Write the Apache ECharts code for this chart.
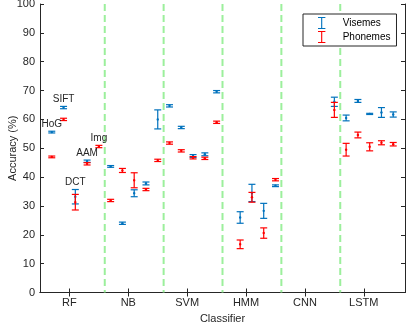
<!DOCTYPE html>
<html>
<head>
<meta charset="utf-8">
<script src="https://cdn.jsdelivr.net/npm/echarts@6/dist/echarts.min.js"></script>
<style>
  html, body { margin: 0; padding: 0; background: #fff; }
  #chart { width: 407px; height: 326px; }
</style>
</head>
<body>
<div id="chart"></div>
<script>
	const classifiers = ['RF', 'NB', 'SVM', 'HMM', 'CNN', 'LSTM'];
	const features = ['HoG', 'SIFT', 'DCT', 'AAM', 'Img'];

	// accuracy (%), one row per classifier, one column per feature
	const visemeMean = [
		[55.6, 64.1, 33.2, 45.5, null],
		[43.7, 24.0, 34.4, 37.8, 60.0],
		[64.7, 57.2, 47.3, 47.9, 69.6],
		[null, 26.0, 34.5, 28.3, 37.0],
		[null, null, null, null, 66.1],
		[60.5, 66.4, 61.9, 62.4, 61.7]
	];
	const visemeErr = [
		[0.3, 0.4, 2.5, 0.4, null],
		[0.3, 0.4, 1.2, 0.5, 3.3],
		[0.4, 0.4, 0.5, 0.5, 0.4],
		[null, 2.0, 3.0, 2.6, 0.3],
		[null, null, null, null, 1.6],
		[1.0, 0.5, 0.2, 1.7, 0.9]
	];
	const phonemeMean = [
		[47.0, 60.0, 31.3, 44.6, 50.6],
		[31.9, 42.3, 38.9, 35.7, 45.8],
		[51.8, 49.1, 46.7, 46.5, 59.0],
		[null, 16.7, 33.0, 20.6, 39.1],
		[null, null, null, null, 63.3],
		[49.5, 54.6, 50.5, 51.9, 51.4]
	];
	const phonemeErr = [
		[0.3, 0.4, 2.7, 0.4, 0.4],
		[0.4, 0.7, 2.6, 0.4, 0.4],
		[0.4, 0.4, 0.4, 0.4, 0.4],
		[null, 1.5, 1.7, 1.8, 0.4],
		[null, null, null, null, 2.6],
		[2.2, 1.0, 1.4, 0.7, 0.6]
	];
	// feature names are written above the RF group only
	const annotatedClassifier = 'RF';

	// where each feature sits inside a classifier slot
	const featureShift = [-0.3, -0.1, 0.1, 0.3, 0.5];

	function buildBars (mean, err) {
		const out = [];
		for (let c = 0; c < classifiers.length; c++) {
			for (let f = 0; f < features.length; f++) {
				if (mean[c][f] == null) continue;
				const m = mean[c][f], e = err[c][f];
				out.push([c + 1 + featureShift[f], m, m - e, m + e]);
			}
		}
		return out;
	}

	function buildNotes () {
		const c = classifiers.indexOf(annotatedClassifier);
		const out = [];
		for (let f = 0; f < features.length; f++) {
			let top = -Infinity;
			if (visemeMean[c][f] != null) top = Math.max(top, visemeMean[c][f] + visemeErr[c][f]);
			if (phonemeMean[c][f] != null) top = Math.max(top, phonemeMean[c][f] + phonemeErr[c][f]);
			out.push([c + 1 + featureShift[f], top, features[f]]);
		}
		return out;
	}

	const dividers = classifiers.slice(1).map((_, i) => i + 1.6);
	const tickPos = classifiers.map((_, i) => i + 1);

	function renderBar (params, api) {
		const x = api.value(0);
		const pm = api.coord([x, api.value(1)]);
		const pl = api.coord([x, api.value(2)]);
		const ph = api.coord([x, api.value(3)]);
		const color = api.visual('color');
		const st = { stroke: color, lineWidth: 1.2, fill: null };
		const cap = 3.5;
		return {
			type: 'group',
			children: [
				{ type: 'line', shape: { x1: pl[0], y1: pl[1], x2: ph[0], y2: ph[1] }, style: st },
				{ type: 'line', shape: { x1: pl[0] - cap, y1: pl[1], x2: pl[0] + cap, y2: pl[1] }, style: st },
				{ type: 'line', shape: { x1: ph[0] - cap, y1: ph[1], x2: ph[0] + cap, y2: ph[1] }, style: st },
				{ type: 'circle', shape: { cx: pm[0], cy: pm[1], r: 1.2 }, style: { fill: color } }
			]
		};
	}

	const font = "'Liberation Sans', Arial, Helvetica, sans-serif";
	const axisColor = '#262626';
	const barIcon = 'path://M0,0H8V1.2H4.6V11.8H8V13H0V11.8H3.4V1.2H0Z';

	const chart = echarts.init(document.getElementById('chart'));
	const option = {
		animation: false,
		textStyle: { fontFamily: font },
		grid: { left: 40, right: 2, top: 4, bottom: 33.5, containLabel: false, outerBoundsMode: 'none' },
		legend: {
			left: 303,
			top: 14,
			orient: 'vertical',
			padding: [3, 6, 3, 15],
			itemGap: 2,
			itemWidth: 8,
			itemHeight: 12,
			borderColor: axisColor,
			borderWidth: 1,
			backgroundColor: '#fff',
			textStyle: { fontSize: 10, color: '#000', padding: [0, 0, 0, 12] },
			data: [
				{ name: 'Visemes', icon: barIcon },
				{ name: 'Phonemes', icon: barIcon }
			]
		},
		xAxis: [
			{
				type: 'value',
				min: 0.5,
				max: 6.7,
				name: 'Classifier',
				nameLocation: 'middle',
				nameGap: 20,
				nameTextStyle: { fontSize: 11, color: axisColor },
				axisLine: { lineStyle: { color: axisColor } },
				axisTick: { inside: true, length: 4, customValues: tickPos, lineStyle: { color: axisColor } },
				axisLabel: {
					customValues: tickPos,
					fontSize: 11,
					color: axisColor,
					margin: 5,
					formatter: v => classifiers[Math.round(v) - 1] || ''
				},
				splitLine: { show: false }
			},
			{
				type: 'value',
				position: 'top',
				min: 0.5,
				max: 6.7,
				axisLine: { show: true, lineStyle: { color: axisColor } },
				axisTick: { inside: true, length: 4, customValues: tickPos, lineStyle: { color: axisColor } },
				axisLabel: { show: false },
				splitLine: { show: false }
			}
		],
		yAxis: [
			{
				type: 'value',
				min: 0,
				max: 100,
				interval: 10,
				name: 'Accuracy (%)',
				nameLocation: 'middle',
				nameGap: 22,
				nameMoveOverlap: false,
				nameTextStyle: { fontSize: 11, color: axisColor },
				axisLine: { show: true, lineStyle: { color: axisColor } },
				axisTick: { show: true, inside: true, length: 4, lineStyle: { color: axisColor } },
				axisLabel: { fontSize: 11, color: axisColor, margin: 5 },
				splitLine: { show: false }
			},
			{
				type: 'value',
				position: 'right',
				min: 0,
				max: 100,
				interval: 10,
				axisLine: { show: true, lineStyle: { color: axisColor } },
				axisTick: { show: true, inside: true, length: 4, lineStyle: { color: axisColor } },
				axisLabel: { show: false },
				splitLine: { show: false }
			}
		],
		series: [
			{
				name: 'dividers',
				type: 'custom',
				silent: true,
				z: 1,
				data: dividers.map(v => [v]),
				encode: { x: 0 },
				renderItem (params, api) {
					const a = api.coord([api.value(0), 100]);
					const b = api.coord([api.value(0), 0]);
					return {
						type: 'line',
						shape: { x1: a[0], y1: a[1], x2: b[0], y2: b[1] },
						style: { stroke: '#9cef9c', lineWidth: 2, lineDash: [7, 4] }
					};
				}
			},
			{
				name: 'Visemes',
				type: 'custom',
				z: 3,
				itemStyle: { color: '#0072BD' },
				data: buildBars(visemeMean, visemeErr),
				encode: { x: 0, y: [1, 2, 3] },
				renderItem: renderBar
			},
			{
				name: 'Phonemes',
				type: 'custom',
				z: 4,
				itemStyle: { color: '#FF0000' },
				data: buildBars(phonemeMean, phonemeErr),
				encode: { x: 0, y: [1, 2, 3] },
				renderItem: renderBar
			},
			{
				name: 'notes',
				type: 'custom',
				silent: true,
				z: 5,
				data: buildNotes(),
				encode: { x: 0, y: 1 },
				renderItem (params, api) {
					const p = api.coord([api.value(0), api.value(1)]);
					return {
						type: 'text',
						style: {
							text: api.value(2),
							x: p[0],
							y: p[1] - 7,
							align: 'center',
							verticalAlign: 'middle',
							fill: '#262626',
							font: '10px ' + font
						}
					};
				}
			}
		]
	};
	chart.setOption(option);
</script>
</body>
</html>
